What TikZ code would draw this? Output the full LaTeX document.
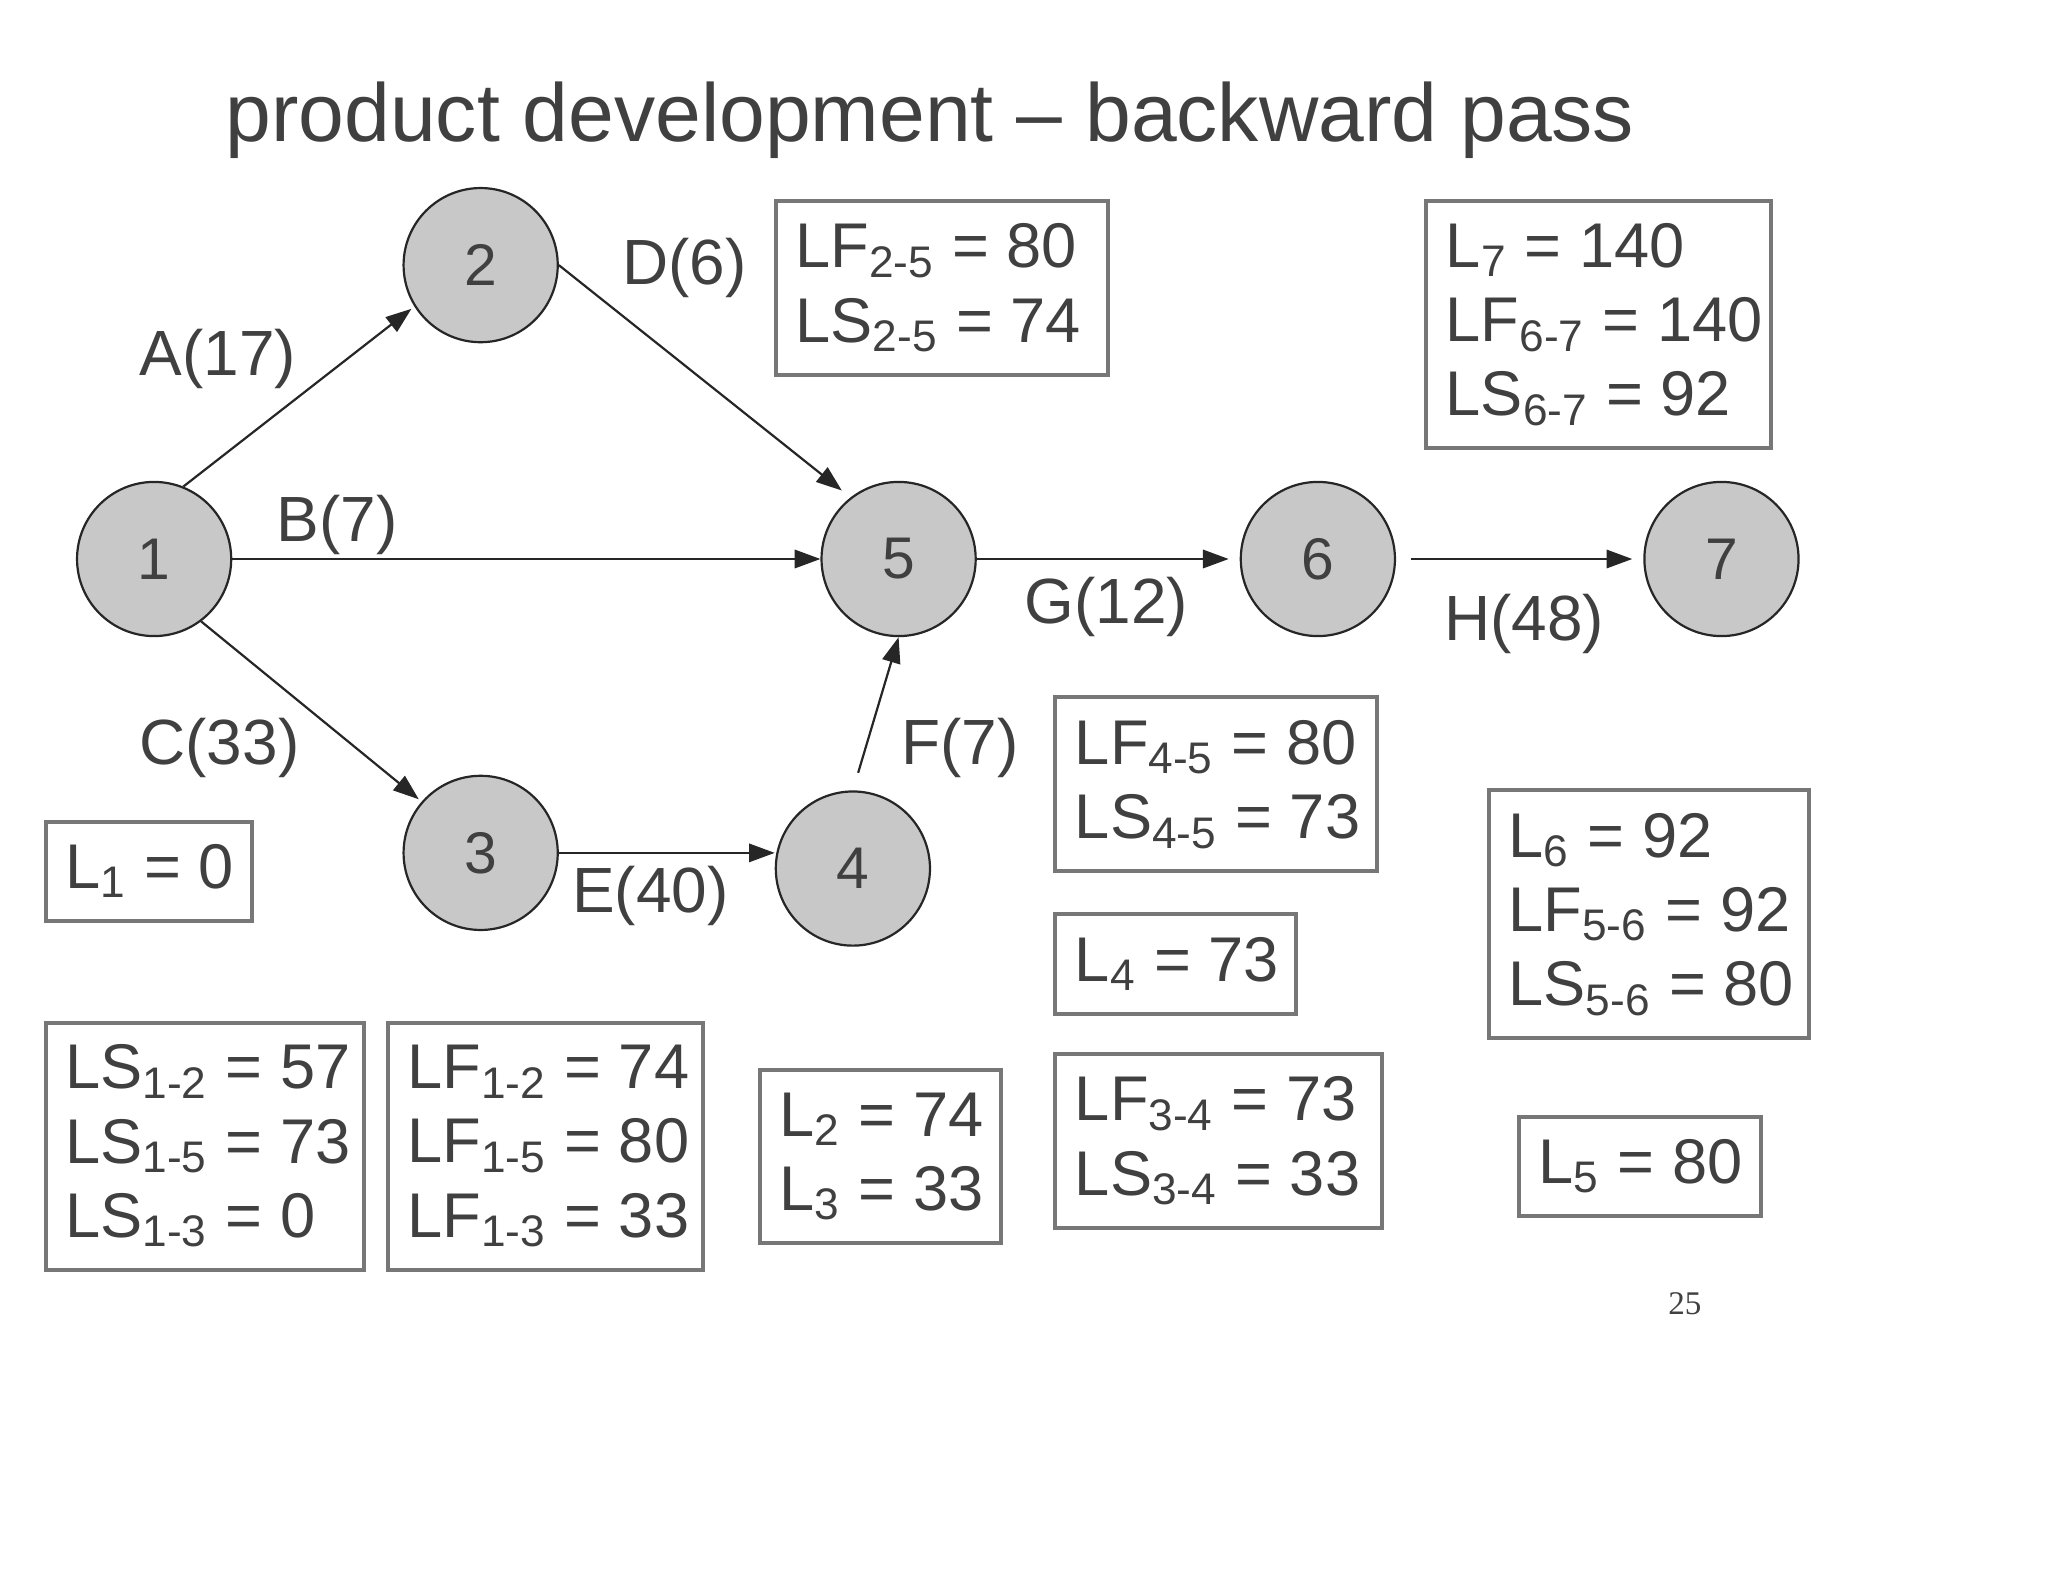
\documentclass[tikz,border=0pt]{standalone}
\usepackage{fontspec}
\setmainfont{Liberation Sans}
\usetikzlibrary{arrows.meta}
\definecolor{tx}{HTML}{404040}
\definecolor{bx}{HTML}{777777}
\definecolor{cf}{HTML}{C8C8C8}
\newcommand{\sbs}[1]{\textsubscript{#1}}
\begin{document}
\begin{tikzpicture}[x=0.0125cm,y=-0.0125cm,
  ev/.style={circle,draw=black!85,line width=0.6pt,fill=cf,minimum size=1.475cm,inner sep=0pt,text=tx,font=\fontsize{16}{18}\selectfont},
  lab/.style={text=tx,font=\fontsize{17.4}{20}\selectfont,inner sep=0pt},
  arr/.style={draw=black!85,line width=0.6pt,-{Triangle[length=7pt,width=5pt]}},
  bxs/.style={draw=bx,line width=1.1pt,inner sep=0pt,anchor=center},
  bt/.style={text=tx,font=\fontsize{17.2}{20.2}\selectfont,align=left,inner sep=0pt,anchor=west}]
\useasboundingbox (0,0) rectangle (1568,1211);
\node[text=tx,font=\fontsize{22.4}{26}\selectfont] (title) at (712,92) {product development -- backward pass};
\node[ev] (n1) at (118,428) {1};
\node[ev] (n2) at (368,203) {2};
\node[ev] (n3) at (368,653) {3};
\node[ev] (n4) at (653,665) {4};
\node[ev] (n5) at (688,428) {5};
\node[ev] (n6) at (1009,428) {6};
\node[ev] (n7) at (1318,428) {7};
\draw[arr,shorten >=1pt] (n1.68) -- (n2.212);
\draw[arr] (n1) -- (n5);
\draw[arr,shorten >=1pt] (n1.-53) -- (n3.139);
\draw[arr,shorten >=3pt] (n2.east) -- (n5.128);
\draw[arr] (n3.east) -- (n3.east -| n4.west);
\draw[arr,shorten <=5pt] (n4.north) -- (n5.south);
\draw[arr,shorten >=3pt] (n5) -- (n6);
\draw[arr,shorten <=4pt,shorten >=3pt] (n6) -- (n7);
\node[lab] (la) at (167,275) {A(17)};
\node[lab] (lb) at (258,402) {B(7)};
\node[lab] (ld) at (524,205) {D(6)};
\node[lab] (lc) at (168,573) {C(33)};
\node[lab] (le) at (498,686) {E(40)};
\node[lab] (lf) at (735,573) {F(7)};
\node[lab] (lg) at (847,465) {G(12)};
\node[lab] (lh) at (1167,478) {H(48)};
\node[bxs,minimum width=3.175cm,minimum height=1.6625cm] (b25) at (721,220.5) {};
\node[bt] (t25) at ([xshift=0.2cm]b25.west) {LF\sbs{2-5} = 80\\LS\sbs{2-5} = 74};
\node[bxs,minimum width=3.3cm,minimum height=2.3625cm] (b7) at (1224,248.5) {};
\node[bt] (t7) at ([xshift=0.2cm]b7.west) {L\sbs{7} = 140\\LF\sbs{6-7} = 140\\LS\sbs{6-7} = 92};
\node[bxs,minimum width=1.975cm,minimum height=0.95cm] (b1) at (114,667) {};
\node[bt] (t1) at ([xshift=0.2cm]b1.west) {L\sbs{1} = 0};
\node[bxs,minimum width=3.05cm,minimum height=2.3625cm] (bls) at (157,877.5) {};
\node[bt] (tls) at ([xshift=0.2cm]bls.west) {LS\sbs{1-2} = 57\\LS\sbs{1-5} = 73\\LS\sbs{1-3} = 0};
\node[bxs,minimum width=3.0125cm,minimum height=2.3625cm] (blf) at (417.5,877.5) {};
\node[bt] (tlf) at ([xshift=0.2cm]blf.west) {LF\sbs{1-2} = 74\\LF\sbs{1-5} = 80\\LF\sbs{1-3} = 33};
\node[bxs,minimum width=2.3cm,minimum height=1.6625cm] (b23) at (674,885.5) {};
\node[bt] (t23) at ([xshift=0.2cm]b23.west) {L\sbs{2} = 74\\L\sbs{3} = 33};
\node[bxs,minimum width=3.075cm,minimum height=1.6625cm] (b45) at (931,600.5) {};
\node[bt] (t45) at ([xshift=0.2cm]b45.west) {LF\sbs{4-5} = 80\\LS\sbs{4-5} = 73};
\node[bxs,minimum width=2.3cm,minimum height=0.95cm] (b4) at (900,738) {};
\node[bt] (t4) at ([xshift=0.2cm]b4.west) {L\sbs{4} = 73};
\node[bxs,minimum width=3.125cm,minimum height=1.6625cm] (b34) at (933,873.5) {};
\node[bt] (t34) at ([xshift=0.2cm]b34.west) {LF\sbs{3-4} = 73\\LS\sbs{3-4} = 33};
\node[bxs,minimum width=3.0625cm,minimum height=2.375cm] (b6) at (1262.5,700) {};
\node[bt] (t6) at ([xshift=0.2cm]b6.west) {L\sbs{6} = 92\\LF\sbs{5-6} = 92\\LS\sbs{5-6} = 80};
\node[bxs,minimum width=2.3125cm,minimum height=0.95cm] (b5) at (1255.5,893) {};
\node[bt] (t5) at ([xshift=0.2cm]b5.west) {L\sbs{5} = 80};
\node[text=tx,inner sep=0pt,font=\fontsize{9}{10}\selectfont] (pg) at (1290,998) {\fontspec{Liberation Serif}25};
\end{tikzpicture}
\end{document}
